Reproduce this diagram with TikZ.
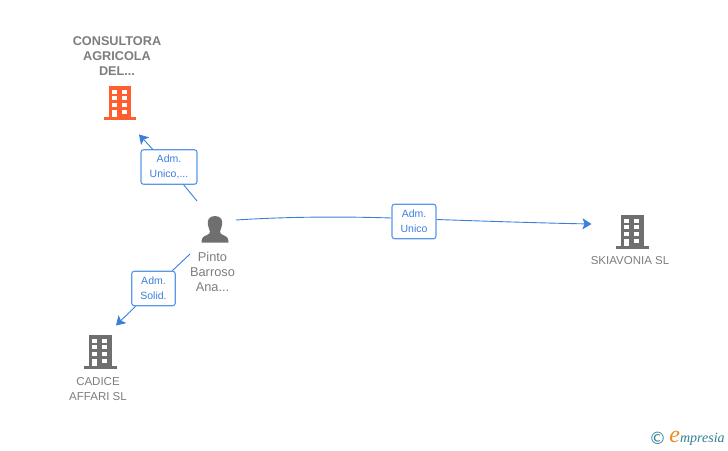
\documentclass[tikz,border=0pt]{standalone}
\usepackage{fontspec}
\setmainfont{Liberation Sans}
\newfontfamily\logofont{Liberation Serif}
\newfontfamily\symfont{DejaVu Sans}
\usetikzlibrary{
    arrows.meta,
    positioning
}
\definecolor{linkblue}{HTML}{3B7FDD}
\definecolor{boxblue}{HTML}{5A98E6}
\definecolor{icongray}{HTML}{6F6F6F}
\definecolor{textgray}{HTML}{7D7D7D}
\definecolor{iconorange}{HTML}{FF5F2E}
\definecolor{logoteal}{HTML}{2F7F93}
\definecolor{logoorange}{HTML}{F28A1E}
\tikzstyle{rolebox} = [
    rectangle, draw=boxblue,
    line width=1.1pt,
    rounded corners=2.5pt,
    fill=white,
    text=linkblue,
    align=center,
    font=\fontsize{10.5}{15}\selectfont,
    inner sep=0pt
]
\tikzstyle{link} = [
    line width=0.9pt,
    draw=linkblue
]
\tikzstyle{arrow} = [
    link,
    -{Stealth[length=9pt,width=11pt,inset=2pt]}
]
\tikzset{
    entity/.style={align=center, text=textgray, font=\fontsize{11.5}{15}\selectfont, inner sep=0pt},
    building/.pic={
        % origin at the top left corner of the body
        \fill[pic actions] (0,0) rectangle (22.5,31);
        \fill[pic actions] (-5,31) rectangle (27.5,33.5);
        \foreach \wx in {3.3,13.3}
            \foreach \wy in {3.7,10.3,17,23.7}
                \fill[white] (\wx,\wy) rectangle ++(5,4);
        \fill[white] (3.3,23.7) rectangle (8.3,31);
    },
    person/.pic={
        % origin at the top of the head
        \fill[pic actions] (0,0) .. controls (-6.5,0) and (-8,5) .. (-7,9)
            .. controls (-6.5,12) and (-5.5,14) .. (-5,15.5)
            .. controls (-5,17.5) and (-6,18) .. (-8,19)
            .. controls (-12,20.5) and (-13.5,22) .. (-13.5,26.5)
            -- (13.5,26.5)
            .. controls (13.5,22) and (12,20.5) .. (8,19)
            .. controls (6,18) and (5,17.5) .. (5,15.5)
            .. controls (5.5,14) and (6.5,12) .. (7,9)
            .. controls (8,5) and (6.5,0) .. (0,0) -- cycle;
    }
}

\begin{document}
\begin{tikzpicture}[x=1pt, y=-1pt]
\useasboundingbox (0,0) rectangle (728,450);

% Iconos
\pic[fill=iconorange] at (108.5,86) {building};
\pic[fill=icongray] at (89,335) {building};
\pic[fill=icongray] at (621,215) {building};
\pic[fill=icongray] at (215,216) {person};

% Nombres
\node[entity, font=\fontsize{12.7}{15}\selectfont\bfseries] (consultora) at (117,56) {CONSULTORA\\AGRICOLA\\DEL...};
\node[entity, font=\fontsize{12.8}{15}\selectfont] (pinto) at (212.5,272) {Pinto\\Barroso\\Ana...};
\node[entity] (cadice) at (98,389) {CADICE\\AFFARI SL};
\node[entity] (skiavonia) at (630,261) {SKIAVONIA SL};

% Cargos
\node[rolebox, minimum width=56pt, minimum height=34.5pt] (admunico) at (169,167) {Adm.\\Unico,...};
\node[rolebox, minimum width=43.5pt, minimum height=34.5pt] (admsolid) at (153.5,288.5) {Adm.\\Solid.};
\node[rolebox, minimum width=44pt, minimum height=34.5pt] (admskia) at (414,221.5) {Adm.\\Unico};

% Extremos libres
\coordinate (fromtop) at (197,201);
\coordinate (totop) at (139,134.5);
\coordinate (fromleft) at (190,254);
\coordinate (toleft) at (116,325.5);
\coordinate (fromright) at (236,220);
\coordinate (toright) at (591.5,224);

% Conexiones
\draw[link] (fromtop) -- (admunico);
\draw[arrow] (admunico) -- (totop);
\draw[link] (fromleft) -- (admsolid);
\draw[arrow] (admsolid) -- (toleft);
\draw[link] (fromright) .. controls (290,216.5) and (345,216.5) .. ([yshift=3.5pt]admskia.west);
\draw[arrow] ([yshift=2pt]admskia.east) .. controls (480,221) and (540,223) .. (toright);

% Logo
\node[text=logoteal, inner sep=0pt, font=\symfont\fontsize{17}{17}\selectfont] (copyr) at (657.5,438.5) {©};
\node[right=3pt of copyr, text=logoteal, inner sep=0pt, font=\logofont\itshape\fontsize{14}{15}\selectfont] (empresia) {{\color{logoorange}\fontsize{24}{15}\selectfont e}mpresia};

\end{tikzpicture}
\end{document}
